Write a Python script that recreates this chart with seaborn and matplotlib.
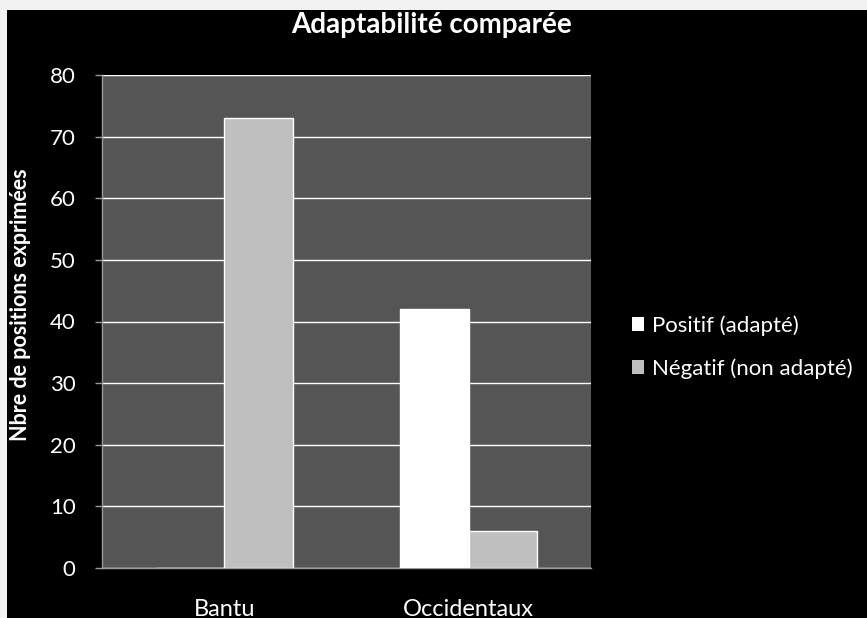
import matplotlib
matplotlib.use("Agg")
import matplotlib.pyplot as plt
from matplotlib.patches import Patch, Rectangle
import seaborn as sns
import pandas as pd

# Data
groupes = ["Bantu", "Occidentaux"]
reponses = ["Positif (adapté)", "Négatif (non adapté)"]
positif = [0, 42]
negatif = [73, 6]
y_ticks = [0, 10, 20, 30, 40, 50, 60, 70, 80]

df = pd.DataFrame({
    "groupe": groupes * 2,
    "reponse": [reponses[0]] * len(groupes) + [reponses[1]] * len(groupes),
    "nombre": positif + negatif,
})

couleurs = {reponses[0]: "#ffffff", reponses[1]: "#bfbfbf"}

sns.set_theme(style="white")
plt.rcParams["font.family"] = ["Lato", "DejaVu Sans"]

fig = plt.figure(figsize=(8.67, 6.18), dpi=100, facecolor="#f2f2f2")
# black chart frame, kept behind the axes
fig.patches.append(Rectangle((7 / 867, 0), 1, 1 - 10 / 618, transform=fig.transFigure,
                             facecolor="black", edgecolor="none", zorder=-10))

ax = fig.add_axes([102 / 867, 1 - 568 / 618, (591 - 102) / 867, (568 - 75) / 618])
ax.set_facecolor("#555555")

sns.barplot(data=df, x="groupe", y="nombre", hue="reponse", order=groupes,
            hue_order=reponses, palette=couleurs, width=0.56, saturation=1,
            legend=False, ax=ax, zorder=3)

ax.set_xlim(-0.5, 1.5)
ax.set_ylim(0, 80)
ax.set_yticks(y_ticks)
ax.yaxis.grid(True, color="white", linewidth=1.0, zorder=1)
ax.set_axisbelow(True)

ax.tick_params(axis="y", colors="white", labelsize=16, length=5, width=1,
               direction="out", pad=14, left=True, color="#9a9a9a")
ax.tick_params(axis="x", colors="white", labelsize=17, length=0, pad=22)
for lab in ax.get_yticklabels() + ax.get_xticklabels():
    lab.set_color("white")

for s in ["top", "right"]:
    ax.spines[s].set_visible(False)
for s in ["left", "bottom"]:
    ax.spines[s].set_color("#9a9a9a")
    ax.spines[s].set_linewidth(1)

ax.set_xlabel("")
ax.set_ylabel("Nbre de positions exprimées", color="white", fontsize=15.5,
              fontweight="bold")
ax.yaxis.set_label_coords(-71 / 489, (568 - 305) / 493)

fig.text(432 / 867, 1 - 33 / 618, "Adaptabilité comparée", color="white",
         fontsize=20, fontweight="bold", ha="center", va="baseline")

handles = [Patch(facecolor=couleurs[r], edgecolor="none") for r in reponses]
leg = fig.legend(handles, reponses, loc="center left",
                 bbox_to_anchor=(632 / 867, 1 - 347 / 618), frameon=False,
                 fontsize=16, labelcolor="white", handlelength=0.55,
                 handleheight=0.55, handletextpad=0.35, labelspacing=1.0,
                 borderpad=0, borderaxespad=0)

fig.savefig("out.png", dpi=100, facecolor=fig.get_facecolor())
